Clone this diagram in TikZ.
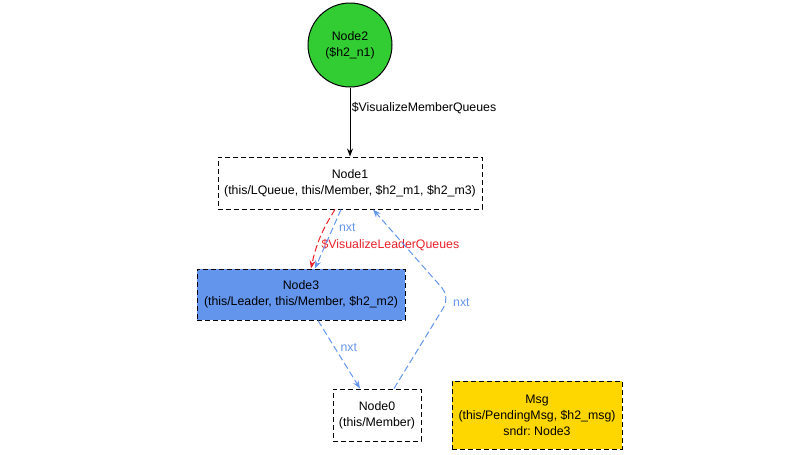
\documentclass[tikz,border=0pt]{standalone}
\usepackage{fontspec}
\setmainfont{Liberation Sans}
\usetikzlibrary{arrows.meta,shapes.geometric}
\frenchspacing

\definecolor{nodegreen}{HTML}{32CD32}
\definecolor{nodeblue}{HTML}{6495ED}
\definecolor{nodegold}{HTML}{FFD700}
\definecolor{edgered}{HTML}{E8202A}

\begin{document}
\begin{tikzpicture}[x=0.75pt,y=-0.75pt,font=\fontsize{9.25}{12}\selectfont]
\tikzstyle{state} = [circle, draw=black, line width=0.75pt, fill=nodegreen, minimum size=63pt,
align=center, inner sep=0pt]
\tikzstyle{block} = [rectangle, draw=black, line width=0.75pt, dash pattern=on 3.75pt off 2.25pt,
align=center, minimum height=39pt]
\tikzstyle{line} = [draw, line width=0.75pt, -{Stealth[length=6pt,width=4.5pt]}];
\tikzstyle{nxt} = [line, nodeblue, dash pattern=on 5pt off 2.5pt];
\useasboundingbox (0,0) rectangle (788,454);

% top
\node [state] (node2) at (350,45) {Node2\\(\$h2\_n1)};
% queue
\node [block, minimum width=198pt] (node1) at (350,183)
  {Node1\\(this/LQueue, this/Member, \$h2\_m1, \$h2\_m3)};
% leader
\node [block, fill=nodeblue, minimum width=156pt, minimum height=38.25pt] (node3) at (301,294.5)
  {Node3\\(this/Leader, this/Member, \$h2\_m2)};
% member
\node [block, minimum width=66pt] (node0) at (377,415) {Node0\\(this/Member)};
% message
\node [block, fill=nodegold, minimum width=127.5pt, minimum height=51pt] (msg) at (537,415)
  {Msg\\(this/PendingMsg, \$h2\_msg)\\sndr: Node3};

\coordinate (turn) at (450,297);

\path [line] (node2) -- node [right, pos=0.3, inner sep=1pt] {\$VisualizeMemberQueues} (node1);
\path [line, edgered, dash pattern=on 5pt off 2.5pt] ([xshift=-11.25pt]node1.south)
  to [bend right=10] node [right, pos=0.64, inner sep=3pt] {\$VisualizeLeaderQueues} ([xshift=7.5pt]node3.north);
\path [nxt] ([xshift=-6.75pt]node1.south) -- node [right, pos=0.3, inner sep=4pt] {nxt} ([xshift=10.5pt]node3.north);
\path [nxt] ([xshift=12.75pt]node3.south) -- node [right, pos=0.4, inner sep=4pt] {nxt} ([xshift=-12.75pt]node0.north);
\path [nxt, rounded corners=9pt] ([xshift=12.75pt]node0.north) -- (turn)
  node [right, inner sep=2pt, yshift=-4.5pt] {nxt} -- ([xshift=17.25pt]node1.south);

\end{tikzpicture}
\end{document}
